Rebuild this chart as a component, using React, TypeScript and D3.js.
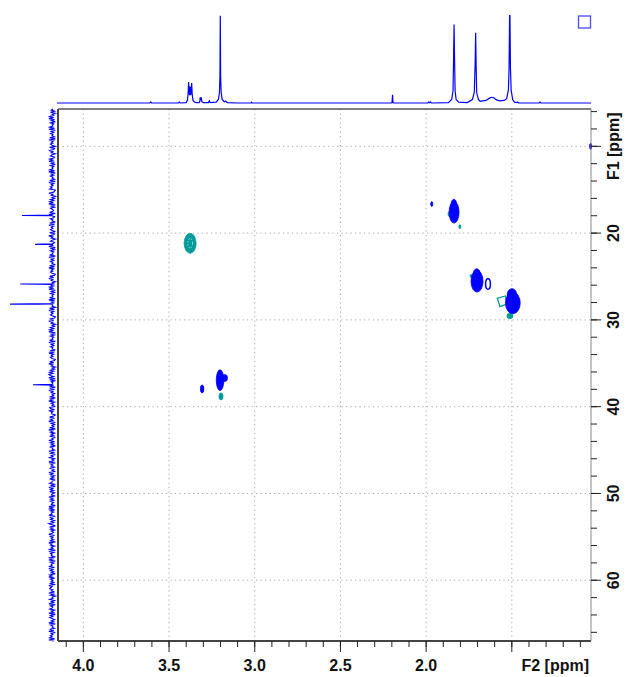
import React from "react";
import * as d3 from "d3";

const W = 627;
const H = 677;

// Axis domains (ppm)
const F2_DOMAIN: [number, number] = [4.148, 1.038];
const F1_DOMAIN: [number, number] = [5.7, 67.0];

const F2_MAJOR = [4.0, 3.5, 3.0, 2.5, 2.0, 1.5];
const F2_LABELS = ["4.0", "3.5", "3.0", "2.5", "2.0", "F2 [ppm]"];
const F2_MINOR = [4.1, 4.0, 3.9, 3.8, 3.7, 3.6, 3.5, 3.4, 3.3, 3.2, 3.1, 3.0, 2.9, 2.8, 2.7, 2.6, 2.5, 2.4, 2.3, 2.2, 2.1, 2.0, 1.9, 1.8, 1.7, 1.6, 1.5, 1.4, 1.3, 1.2, 1.1];

const F1_MAJOR = [10, 20, 30, 40, 50, 60];
const F1_LABELS = ["F1 [ppm]", "20", "30", "40", "50", "60"];
const F1_MINOR = [6, 8, 10, 12, 14, 16, 18, 20, 22, 24, 26, 28, 30, 32, 34, 36, 38, 40, 42, 44, 46, 48, 50, 52, 54, 56, 58, 60, 62, 64, 66];

// 1H projection (F2 ppm, intensity 0..100)
const TOP_TRACE: [number, number][] = [
  [4.154, 0], [3.612, 0], [3.607, 1.2], [3.602, 0],
  [3.446, 0], [3.44, 1], [3.435, 0],
  [3.40, 0.5], [3.393, 3], [3.389, 10], [3.386, 24], [3.383, 12], [3.380, 9], [3.377, 19], [3.374, 9],
  [3.371, 12], [3.368, 23], [3.365, 10], [3.360, 3], [3.350, 1], [3.34, 0.5], [3.325, 0.5],
  [3.321, 1.5], [3.318, 6.5], [3.315, 3], [3.312, 6.5], [3.309, 1.5], [3.30, 0.5],
  [3.27, 0.5], [3.265, 2.5], [3.26, 0.5], [3.225, 1], [3.212, 4], [3.206, 12], [3.203, 30],
  [3.201, 100], [3.199, 30], [3.196, 12], [3.19, 4], [3.178, 1.5], [3.17, 2], [3.16, 0.5],
  [3.10, 0], [3.022, 0], [3.018, 1], [3.014, 0],
  [2.205, 0], [2.199, 0.5], [2.196, 9.5], [2.193, 0.5], [2.187, 0],
  [1.99, 0], [1.985, 1], [1.98, 0.3], [1.975, 1.2], [1.97, 0],
  [1.87, 0.5], [1.851, 4], [1.843, 14], [1.840, 50], [1.837, 90], [1.834, 50], [1.831, 14], [1.825, 4],
  [1.81, 1], [1.76, 0.5], [1.73, 4], [1.719, 12], [1.714, 45], [1.711, 80.5], [1.708, 40],
  [1.705, 12], [1.695, 4], [1.685, 2], [1.67, 2.5], [1.65, 3], [1.635, 5], [1.62, 6.5],
  [1.605, 6], [1.59, 3.5], [1.57, 2.5], [1.545, 3], [1.53, 5], [1.52, 15], [1.516, 40],
  [1.513, 100], [1.511, 100], [1.508, 40], [1.504, 15], [1.495, 4], [1.485, 1], [1.47, 0.5],
  [1.465, 1.2], [1.46, 0], [1.34, 0], [1.335, 1], [1.33, 0], [1.038, 0],
];

// 13C projection peaks (F1 ppm, intensity 0..100)
const LEFT_PEAKS: [number, number][] = [
  [17.98, 72], [21.3, 41], [25.87, 76], [28.18, 100], [37.47, 46],
];
// hand-read baseline noise of the 13C projection, one digit per step
const LEFT_NOISE =
  "46271538492617354829163745281936475182394615723849" +
  "26173548291637452819364758123946152738491627534819" +
  "62374518293647518239461572384916273548192637451829" +
  "36475128394615273849162735481926374518293647512839" +
  "46152738491627354819263745182936475128394615273849" +
  "73918264537182946253718492635187294651382749162538" +
  "19472638154927361845293716482539174628351947263815" +
  "58261947382561947283561948273659184726395184726359" +
  "27463819572648193756284917365829473618592746381957" +
  "84629371548263917458263917485263917452839164758293";

// cross peaks: [F2 ppm, F1 ppm, half-width F2, half-width F1]
const POSITIVE_PEAKS: [number, number, number, number][] = [
  [3.2025, 36.95, 0.022, 1.2],
  [3.175, 36.7, 0.016, 0.4],
  [3.307, 37.95, 0.010, 0.46],
  [1.967, 16.65, 0.006, 0.29],
  [1.837, 17.6, 0.029, 1.25],
  [1.838, 16.7, 0.016, 0.6],
  [1.703, 25.55, 0.035, 1.25],
  [1.705, 24.7, 0.020, 0.6],
  [1.494, 28.05, 0.043, 1.25],
  [1.499, 27.1, 0.028, 0.7],
  [1.04, 10.0, 0.006, 0.35],
];
const POSITIVE_RINGS: [number, number, number, number][] = [
  [1.639, 25.86, 0.014, 0.6],
];
const NEGATIVE_PEAKS: [number, number, number, number][] = [
  [3.377, 21.17, 0.035, 1.15],
  [3.197, 38.82, 0.012, 0.40],
  [1.803, 19.26, 0.006, 0.23],
  [1.738, 24.94, 0.006, 0.17],
  [1.866, 17.8, 0.006, 0.3],
  [1.511, 29.55, 0.0175, 0.32],
];
const NEGATIVE_HOLES: [number, number, number, number][] = [
  [3.377, 21.17, 0.014, 0.55],
];
const NEGATIVE_OUTLINE: [number, number][] = [
  [1.585, 27.51], [1.538, 27.24], [1.526, 28.16], [1.569, 28.47],
];

const BLUE = "#0000ff";
const TEAL = "#009a9a";
const FONT = "'Liberation Sans', Arial, sans-serif";

export default function App() {
  const L = 58, R = 591, T = 109, B = 641;
  const x = d3.scaleLinear().domain(F2_DOMAIN).range([L, R]);
  const y = d3.scaleLinear().domain(F1_DOMAIN).range([T, B]);
  const yTop = d3.scaleLinear().domain([0, 100]).range([103, 15.7]);
  const xLeft = d3.scaleLinear().domain([0, 100]).range([52.5, 10]);

  const topLine = d3.line<[number, number]>()
    .x((d) => x(d[0]))
    .y((d) => yTop(d[1]))(TOP_TRACE) || "";

  const noiseStep = (F1_DOMAIN[1] - F1_DOMAIN[0]) / (LEFT_NOISE.length - 1);
  const leftPts: [number, number][] = LEFT_NOISE.split("").map((c, i) => [
    F1_DOMAIN[0] + i * noiseStep,
    (Number(c) - 4.5) * 1.9,
  ]);
  LEFT_PEAKS.forEach(([p, h]) => {
    leftPts.push([p - 0.06, 0], [p, h], [p + 0.06, 0]);
  });
  leftPts.sort((a, b) => a[0] - b[0]);
  const leftLine = d3.line<[number, number]>()
    .x((d) => xLeft(d[1]))
    .y((d) => y(d[0]))(leftPts) || "";

  const outline = d3.line<[number, number]>()
    .x((d) => x(d[0]))
    .y((d) => y(d[1]))
    .curve(d3.curveLinearClosed)(NEGATIVE_OUTLINE) || "";

  const ell = (p: [number, number, number, number]) => ({
    cx: x(p[0]),
    cy: y(p[1]),
    rx: Math.abs(x(p[0] + p[2]) - x(p[0])),
    ry: Math.abs(y(p[1] + p[3]) - y(p[1])),
  });

  return (
    <svg width={W} height={H} style={{ position: "absolute", left: 0, top: 0, background: "#fff" }}>
      <rect x={0} y={0} width={W} height={H} fill="#fff" />
      {/* grid */}
      {F2_MAJOR.map((v) => (
        <line key={"gx" + v} x1={x(v)} x2={x(v)} y1={T} y2={B} stroke="#a8a8a8" strokeWidth={1} strokeDasharray="1.2,3.3" />
      ))}
      {F1_MAJOR.map((v) => (
        <line key={"gy" + v} x1={L} x2={R} y1={y(v)} y2={y(v)} stroke="#a8a8a8" strokeWidth={1} strokeDasharray="1.2,3.3" />
      ))}
      {/* cross peaks */}
      {NEGATIVE_PEAKS.map((p, i) => (
        <ellipse key={"n" + i} {...ell(p)} fill={TEAL} stroke={TEAL} strokeWidth={0.8} />
      ))}
      {NEGATIVE_HOLES.map((p, i) => (
        <ellipse key={"h" + i} {...ell(p)} fill="none" stroke="#ffffff" strokeOpacity={0.6} strokeWidth={1} strokeDasharray="1.5,1.5" />
      ))}
      <path d={outline} fill="none" stroke={TEAL} strokeWidth={1.3} />
      {POSITIVE_PEAKS.map((p, i) => (
        <ellipse key={"p" + i} {...ell(p)} fill={BLUE} stroke={BLUE} strokeWidth={0.8} />
      ))}
      {POSITIVE_RINGS.map((p, i) => (
        <ellipse key={"r" + i} {...ell(p)} fill="none" stroke={BLUE} strokeWidth={1.5} />
      ))}
      {/* projections */}
      <path d={topLine} fill="none" stroke={BLUE} strokeWidth={1.2} />
      <path d={leftLine} fill="none" stroke={BLUE} strokeWidth={1.1} />
      {/* frame */}
      <line x1={L} x2={L} y1={T} y2={B} stroke="#444" strokeWidth={2} />
      <line x1={L} x2={R} y1={T} y2={T} stroke="#555" strokeWidth={1.5} />
      <line x1={L} x2={R} y1={B} y2={B} stroke="#444" strokeWidth={2} />
      <line x1={R} x2={R} y1={T} y2={B} stroke="#888" strokeWidth={1} />
      {/* bottom ticks */}
      {F2_MINOR.map((v) => (
        <line key={"tx" + v} x1={x(v)} x2={x(v)} y1={B} y2={B + 6} stroke="#222" strokeWidth={1} />
      ))}
      {F2_MAJOR.map((v) => (
        <line key={"TX" + v} x1={x(v)} x2={x(v)} y1={B} y2={B + 11} stroke="#222" strokeWidth={1} />
      ))}
      {F2_MAJOR.map((v, i) =>
        i < F2_MAJOR.length - 1 ? (
          <text key={"lx" + v} x={x(v)} y={670.5} textAnchor="middle" fontFamily={FONT} fontWeight="bold" fontSize={16} fill="#111">
            {F2_LABELS[i]}
          </text>
        ) : (
          <text key={"lx" + v} x={589} y={670.5} textAnchor="end" fontFamily={FONT} fontWeight="bold" fontSize={16} fill="#111">
            {F2_LABELS[i]}
          </text>
        )
      )}
      {/* right ticks */}
      {F1_MINOR.map((v) => (
        <line key={"ty" + v} x1={R} x2={R + 6} y1={y(v)} y2={y(v)} stroke="#222" strokeWidth={1} />
      ))}
      {F1_MAJOR.map((v) => (
        <line key={"TY" + v} x1={R} x2={R + 10} y1={y(v)} y2={y(v)} stroke="#222" strokeWidth={1} />
      ))}
      {F1_MAJOR.map((v, i) => (
        <text key={"ly" + v} transform={`translate(619,${y(v)}) rotate(-90)`} textAnchor="middle" fontFamily={FONT} fontWeight="bold" fontSize={16} fill="#111">
          {F1_LABELS[i]}
        </text>
      ))}
      {/* small legend box */}
      <rect x={578.5} y={16} width={12} height={12} fill="none" stroke="#4b4bff" strokeWidth={1.3} />
    </svg>
  );
}
